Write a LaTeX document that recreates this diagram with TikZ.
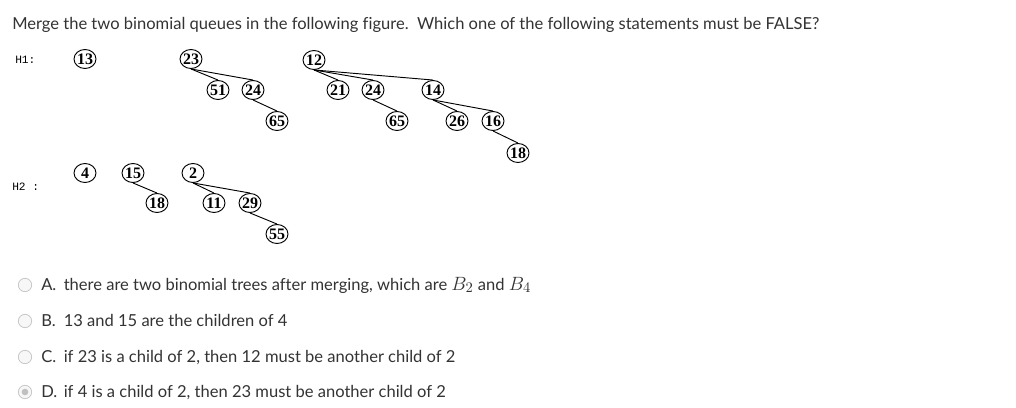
\documentclass[tikz,border=0pt]{standalone}
\usepackage{fontspec}
\setmainfont[Ligatures=NoCommon]{Lato}
\newfontfamily\nodefont{Liberation Serif}
\newfontfamily\labfont{Liberation Mono}
\usetikzlibrary{shapes.geometric}
\definecolor{txt}{HTML}{333333}
\definecolor{radioborder}{HTML}{C8C8C8}
\definecolor{radiofill}{HTML}{F7F7F7}
\definecolor{radiodot}{HTML}{C0C0C0}
\newcommand{\bigmath}[1]{{\fontsize{15}{16}\selectfont$#1$}}
\begin{document}
\begin{tikzpicture}[x=0.75pt,y=-0.75pt,
  hn/.style={draw, ellipse, minimum width=16.5pt, minimum height=14.25pt, inner sep=0pt, line width=0.7pt,
    label={[font=\nodefont\bfseries\fontsize{12}{12}\selectfont, inner sep=0pt]center:#1}},
  edge/.style={line width=0.7pt},
  sans/.style={anchor=base west, inner sep=0pt, text=txt, font=\fontsize{12.4}{14}\selectfont},
  heap/.style={anchor=west, inner sep=0pt, font=\labfont\fontsize{8.4}{10}\selectfont},
  radio/.style={circle, draw=radioborder, fill=radiofill, line width=0.6pt, minimum size=10pt, inner sep=0pt},
  radiodotst/.style={circle, fill=radiodot, minimum size=5pt, inner sep=0pt}
]
\useasboundingbox (0,0) rectangle (1016,407);
\fill[white] (0,0) rectangle (1016,407);

% title
\node[sans] (title) at (12,29.5) {Merge the two binomial queues in the following figure.\ \ Which one of the following statements must be FALSE?};

% heap labels
\node[heap] (h1) at (15,60) {H1:};
\node[heap] (h2) at (12,187) {H2 :};

% H1 trees
\node[hn=13] (a13) at (85,59) {};
\node[hn=23] (a23) at (191,59) {};
\node[hn=51] (a51) at (218,90) {};
\node[hn=24] (a24) at (253,90) {};
\node[hn=65] (a65) at (277,121) {};
\node[hn=12] (b12) at (314,60) {};
\node[hn=21] (b21) at (338,90) {};
\node[hn=24] (b24) at (373,90) {};
\node[hn=14] (b14) at (433,90) {};
\node[hn=65] (b65) at (397,121) {};
\node[hn=26] (b26) at (457,121) {};
\node[hn=16] (b16) at (493,121) {};
\node[hn=18] (b18) at (518,153) {};

\draw[edge] (a23.south) -- (a51.north);
\draw[edge] (a23.south) -- (a24.north);
\draw[edge] (a24.south) -- (a65.north);
\draw[edge] (b12.south) -- (b21.north);
\draw[edge] (b12.south) -- (b24.north);
\draw[edge] (b12.south) -- (b14.north);
\draw[edge] (b24.south) -- (b65.north);
\draw[edge] (b14.south) -- (b26.north);
\draw[edge] (b14.south) -- (b16.north);
\draw[edge] (b16.south) -- (b18.north);

% H2 trees
\node[hn=4] (c4) at (85,173) {};
\node[hn=15] (c15) at (133,173) {};
\node[hn=18] (c18) at (157,203) {};
\node[hn=2] (c2) at (193,173) {};
\node[hn=11] (c11) at (214,203) {};
\node[hn=29] (c29) at (250,203) {};
\node[hn=55] (c55) at (277,234) {};

\draw[edge] (c15.south) -- (c18.north);
\draw[edge] (c2.south) -- (c11.north);
\draw[edge] (c2.south) -- (c29.north);
\draw[edge] (c29.south) -- (c55.north);

% options
\node[radio] (rA) at (25,285) {};
\node[radio] (rB) at (25,321) {};
\node[radio] (rC) at (25,357) {};
\node[radio] (rD) at (25,392) {};
\node[radiodotst] (rDd) at (rD.center) {};

\node[sans] (lA) at (41,290) {A.};
\node[sans] (tA) at (63.5,290) {there are two binomial trees after merging, which are \bigmath{B_2} and \bigmath{B_4}};
\node[sans] (lB) at (41,326) {B.};
\node[sans] (tB) at (63.5,326) {13 and 15 are the children of 4};
\node[sans] (lC) at (41,362) {C.};
\node[sans] (tC) at (63.5,362) {if 23 is a child of 2, then 12 must be another child of 2};
\node[sans] (lD) at (41,397) {D.};
\node[sans] (tD) at (63.5,397) {if 4 is a child of 2, then 23 must be another child of 2};
\end{tikzpicture}
\end{document}
